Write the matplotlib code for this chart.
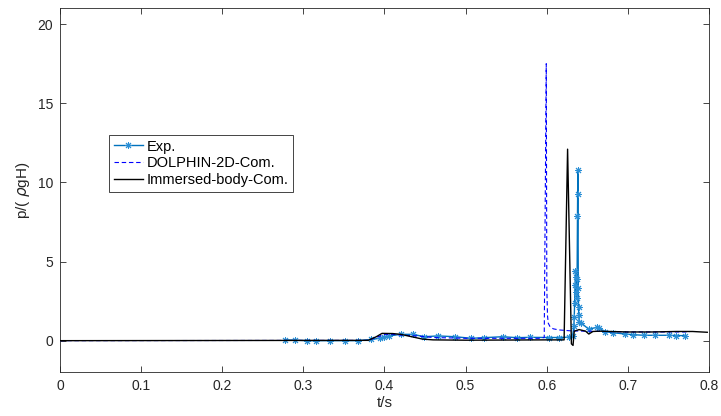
import numpy as np
import matplotlib
matplotlib.use("Agg")
import matplotlib.pyplot as plt

plt.rcParams["font.family"] = ["Liberation Sans", "DejaVu Sans"]
plt.rcParams["mathtext.fontset"] = "dejavusans"

# experimental points
exp_t = [0.278, 0.290, 0.304, 0.316, 0.333, 0.351, 0.368, 0.384, 0.394, 0.400,
         0.406, 0.420, 0.435, 0.449, 0.466, 0.487, 0.507, 0.523, 0.546, 0.563,
         0.580, 0.603, 0.615, 0.627, 0.632, 0.6335, 0.634, 0.6345, 0.635, 0.6355,
         0.636, 0.6365, 0.637, 0.6375, 0.638, 0.6382, 0.6385, 0.639, 0.6393, 0.6397,
         0.640, 0.642, 0.652, 0.662, 0.665, 0.672, 0.682, 0.697, 0.706, 0.720,
         0.734, 0.751, 0.759, 0.771]
exp_p = [0.05, 0.03, 0.0, 0.0, 0.0, 0.0, 0.0, 0.08, 0.15, 0.25,
         0.30, 0.40, 0.40, 0.25, 0.30, 0.25, 0.15, 0.19, 0.25, 0.19,
         0.21, 0.20, 0.20, 0.22, 0.30, 0.90, 1.50, 2.40, 3.50, 4.40,
         4.00, 3.10, 2.70, 3.90, 7.90, 9.25, 10.8, 3.30, 2.10, 1.60,
         1.20, 1.14, 0.72, 0.85, 0.78, 0.57, 0.50, 0.42, 0.38, 0.34,
         0.34, 0.34, 0.32, 0.32]

# DOLPHIN-2D computation
dol_t = [0.0, 0.38, 0.39, 0.40, 0.41, 0.42, 0.44, 0.46, 0.50, 0.55,
         0.59, 0.597, 0.5995, 0.6002, 0.6006, 0.601, 0.602, 0.604, 0.608, 0.615,
         0.63, 0.65, 0.70, 0.75, 0.776]
dol_p = [0.0, 0.02, 0.20, 0.40, 0.40, 0.35, 0.30, 0.20, 0.15, 0.15,
         0.15, 0.20, 17.5, 3.3, 2.5, 1.6, 1.1, 0.9, 0.75, 0.68,
         0.62, 0.60, 0.55, 0.55, 0.55]

# Immersed-body computation
ib_t = [0.0, 0.38, 0.39, 0.397, 0.41, 0.42, 0.447, 0.46, 0.50, 0.55,
        0.60, 0.6215, 0.6258, 0.6305, 0.6325, 0.634, 0.640, 0.648, 0.652, 0.657,
        0.665, 0.70, 0.73, 0.76, 0.78, 0.798]
ib_p = [0.0, 0.02, 0.25, 0.46, 0.45, 0.40, 0.10, 0.05, 0.03, 0.04,
        0.05, 0.05, 12.1, -0.2, -0.3, 0.6, 0.70, 0.60, 0.42, 0.58,
        0.60, 0.55, 0.55, 0.58, 0.58, 0.53]

AX_COL = "#262626"

fig = plt.figure(figsize=(7.21, 4.16), dpi=100)
ax = fig.add_axes([0.0832, 0.105, 0.900, 0.875])

ax.plot(exp_t, exp_p, color="#0072BD", lw=1.0, marker=(8, 2, 0), ms=5,
        mew=0.7, mec="#2a8fd6", label="Exp.", zorder=2)
ax.plot(dol_t, dol_p, color="#0000FF", lw=0.8, ls="--", dashes=(4, 2.5),
        label="DOLPHIN-2D-Com.", zorder=3)
ax.plot(ib_t, ib_p, color="black", lw=1.0, label="Immersed-body-Com.", zorder=4)

ax.set_xlim(0, 0.8)
ax.set_ylim(-2, 21)
ax.set_xticks(np.arange(0, 0.81, 0.1))
ax.set_xticklabels(["0", "0.1", "0.2", "0.3", "0.4", "0.5", "0.6", "0.7", "0.8"])
ax.set_yticks([0, 5, 10, 15, 20])
ax.tick_params(direction="in", top=True, right=True, length=4.5, width=0.6,
               labelsize=10, colors=AX_COL, pad=5)
for s in ax.spines.values():
    s.set_color(AX_COL)
    s.set_linewidth(0.6)

ax.set_xlabel("t/s", fontsize=11, color=AX_COL, labelpad=2)
ax.set_ylabel(r"p/( $\rho$gH)", fontsize=11, color=AX_COL, labelpad=4)

leg = ax.legend(loc="lower left", bbox_to_anchor=(0.076, 0.496), fontsize=10.5,
                handlelength=2.0, handletextpad=0.25, borderpad=0.3,
                labelspacing=0.2, borderaxespad=0, fancybox=False, framealpha=1)
leg.get_frame().set_edgecolor(AX_COL)
leg.get_frame().set_linewidth(0.6)

fig.savefig("out.png", dpi=100)
